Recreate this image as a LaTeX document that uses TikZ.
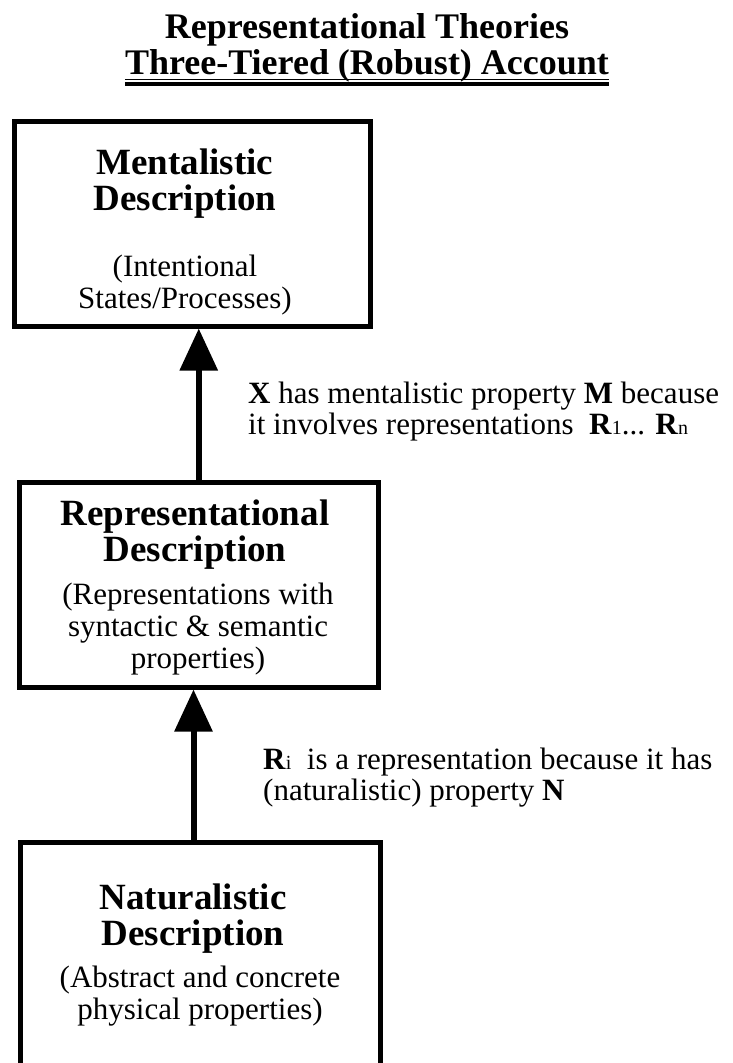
\documentclass[tikz,border=0pt]{standalone}
\usepackage{fontspec}
\setmainfont{Liberation Serif}
\usetikzlibrary{arrows.meta, positioning}
\tikzset{
  tier/.style={draw, line width=5pt, inner sep=0pt},
  titletext/.style={font=\fontsize{36}{36}\selectfont\bfseries, inner sep=0pt, anchor=base},
  heading/.style={font=\fontsize{37}{36}\selectfont\bfseries, align=center, inner sep=0pt, anchor=base},
  detail/.style={font=\fontsize{31}{32}\selectfont, align=center, inner sep=0pt, anchor=base},
  note/.style={font=\fontsize{31}{31}\selectfont, align=left, inner sep=0pt, anchor=base west},
  link/.style={line width=6pt, -{Triangle[length=42pt, width=37pt]}},
}
\newcommand{\idx}[1]{{\fontsize{20}{20}\selectfont\mdseries #1}}

\begin{document}
\begin{tikzpicture}[x=1pt, y=-1pt]
  \useasboundingbox (0,0) rectangle (733,1063);
  \clip (0,0) rectangle (733,1063);

  % Title
  \node[titletext] (title) at (367,38) {Representational Theories};
  \node[titletext] (account) at (367,74) {Three-Tiered (Robust) Account};
  \draw[line width=1.5pt] ([yshift=-5.5pt]account.base west) -- ([yshift=-5.5pt]account.base east);
  \draw[line width=3.5pt] ([yshift=-10pt]account.base west) -- ([yshift=-10pt]account.base east);

  % Tiers (text nodes sit on the baseline of their last line)
  \node[tier, minimum width=356pt, minimum height=205pt] (ment) at (192.5,223.5) {};
  \node[heading] (menthead) at (185,210) {Mentalistic\\Description};
  \node[detail] (mentdetail) at (185,308) {(Intentional\\States/Processes)};

  \node[tier, minimum width=358.5pt, minimum height=205pt] (repr) at (198.75,584.5) {};
  \node[heading] (reprhead) at (195,561) {Representational\\Description};
  \node[detail] (reprdetail) at (198,668) {(Representations with\\syntactic \& semantic\\properties)};

  \node[tier, minimum width=360pt, minimum height=358pt] (nat) at (200,1021) {};
  \node[heading] (nathead) at (193,945) {Naturalistic\\Description};
  \node[detail] (natdetail) at (200,1019) {(Abstract and concrete\\physical properties)};

  % Arrows
  \draw[link] (repr.north) -- (repr.north |- ment.south);
  \coordinate (natfoot) at ([xshift=-6.5pt]nat.north);
  \draw[link] (natfoot) -- (natfoot |- repr.south);

  % Notes
  \node[note] (mentnote) at (248,434) {\textbf{X} has mentalistic property \textbf{M} because\\it involves representations\ \ \textbf{R}\idx{1}... \textbf{R}\idx{n}};
  \node[note] (reprnote) at (263,800) {\textbf{R}\idx{i}\ \ is a representation because it has\\(naturalistic) property \textbf{N}};
\end{tikzpicture}
\end{document}
